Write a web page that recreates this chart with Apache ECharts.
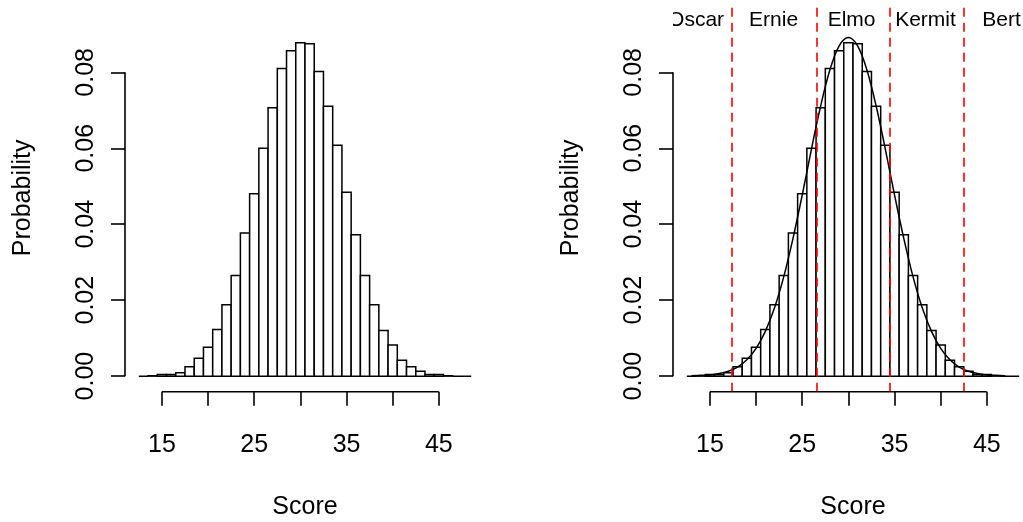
<!DOCTYPE html>
<html>
<head>
<meta charset="utf-8">
<script src="https://cdn.jsdelivr.net/npm/echarts@6/dist/echarts.min.js"></script>
<style>
  html, body { margin: 0; padding: 0; background: #fff; }
  #chart { width: 1023px; height: 522px; }
</style>
</head>
<body>
<div id="chart"></div>
<script>
// histogram bins (score, probability)
const scores = [13, 14, 15, 16, 17, 18, 19, 20, 21, 22, 23, 24, 25, 26, 27, 28, 29, 30,
  31, 32, 33, 34, 35, 36, 37, 38, 39, 40, 41, 42, 43, 44, 45, 46, 47, 48]
const probs = [0, 0.0001, 0.0004, 0.0004, 0.0009, 0.0025, 0.0047, 0.0076, 0.0123, 0.0188,
  0.0265, 0.0377, 0.0480, 0.0600, 0.0707, 0.0810, 0.0857, 0.0878, 0.0875, 0.0802,
  0.0711, 0.0608, 0.0484, 0.0372, 0.0265, 0.0188, 0.0120, 0.0082, 0.0042, 0.0025,
  0.0013, 0.0004, 0.0004, 0.0001, 0, 0]

// smooth density curve on the right panel
const curveScores = [13, 14, 15, 16, 17, 18, 19, 20, 21, 22, 23, 24, 25, 26, 27, 28, 29, 30,
  31, 32, 33, 34, 35, 36, 37, 38, 39, 40, 41, 42, 43, 44, 45, 46, 47]
const curveDens = [0.0001, 0.0002, 0.0003, 0.0007, 0.0013, 0.0024, 0.0043, 0.0073, 0.0118,
  0.0180, 0.0262, 0.0363, 0.0477, 0.0598, 0.0712, 0.0807, 0.0870, 0.0892, 0.0870,
  0.0807, 0.0712, 0.0598, 0.0477, 0.0363, 0.0262, 0.0180, 0.0118, 0.0073, 0.0043,
  0.0024, 0.0013, 0.0007, 0.0003, 0.0002, 0.0001]

// cut points and group names
const cutScores = [17.4, 26.55, 34.45, 42.5]
const groupNames = ['Oscar', 'Ernie', 'Elmo', 'Kermit', 'Bert']
const groupScores = [13.5, 21.9, 30.35, 38.35, 46.6]
const groupY = 0.0937

// axis ticks
const xTicks = [15, 20, 25, 30, 35, 40, 45]
const xLabels = [15, 25, 35, 45]
const yTicks = [0, 0.02, 0.04, 0.06, 0.08]

const X_MIN = 11
const X_MAX = 50
const Y_MIN = -0.0041
const Y_MAX = 0.098
const BIN_W = 1
const FONT = "'Liberation Sans', Arial, Helvetica, sans-serif"
const AXIS_FONT = 25

const chart = echarts.init(document.getElementById('chart'), null, { renderer: 'canvas' })

function xAxisOpt(idx) {
  return {
    type: 'value',
    gridIndex: idx,
    min: X_MIN,
    max: X_MAX,
    name: 'Score',
    nameLocation: 'middle',
    nameGap: 103,
    nameTextStyle: { color: '#000', fontSize: AXIS_FONT, fontFamily: FONT },
    axisLine: { show: false, onZero: false },
    axisTick: {
      show: true,
      customValues: xTicks,
      length: 14,
      lineStyle: { color: '#000', width: 1.6 },
    },
    axisLabel: {
      customValues: xLabels,
      margin: 41,
      color: '#000',
      fontSize: AXIS_FONT,
      fontFamily: FONT,
    },
    splitLine: { show: false },
  }
}

function yAxisOpt(idx) {
  return {
    type: 'value',
    gridIndex: idx,
    min: Y_MIN,
    max: Y_MAX,
    name: 'Probability',
    nameLocation: 'middle',
    nameGap: 89,
    nameTextStyle: { color: '#000', fontSize: AXIS_FONT, fontFamily: FONT },
    axisLine: { show: false, onZero: false },
    axisTick: {
      show: true,
      customValues: yTicks,
      length: 14,
      lineStyle: { color: '#000', width: 1.6 },
    },
    axisLabel: {
      customValues: yTicks,
      rotate: 90,
      margin: 26,
      color: '#000',
      fontSize: AXIS_FONT,
      fontFamily: FONT,
      formatter: (v) => v.toFixed(2),
    },
    splitLine: { show: false },
  }
}

function histSeries(idx) {
  return {
    type: 'custom',
    xAxisIndex: idx,
    yAxisIndex: idx,
    z: 2,
    clip: false,
    data: scores.map((s, i) => [s, probs[i]]),
    renderItem: function (params, api) {
      const x = api.value(0)
      const p0 = api.coord([x - BIN_W / 2, api.value(1)])
      const p1 = api.coord([x + BIN_W / 2, 0])
      return {
        type: 'rect',
        shape: { x: p0[0], y: p0[1], width: p1[0] - p0[0], height: p1[1] - p0[1] },
        style: { fill: '#fff', stroke: '#000', lineWidth: 1.5 },
      }
    },
  }
}

function axisLines(idx) {
  return [
    {
      type: 'line',
      xAxisIndex: idx,
      yAxisIndex: idx,
      clip: false,
      silent: true,
      symbol: 'none',
      z: 5,
      lineStyle: { color: '#000', width: 1.6 },
      data: [[xTicks[0], Y_MIN], [xTicks[xTicks.length - 1], Y_MIN]],
    },
    {
      type: 'line',
      xAxisIndex: idx,
      yAxisIndex: idx,
      clip: false,
      silent: true,
      symbol: 'none',
      z: 5,
      lineStyle: { color: '#000', width: 1.6 },
      data: [[X_MIN, yTicks[0]], [X_MIN, yTicks[yTicks.length - 1]]],
    },
  ]
}

chart.setOption({
  animation: false,
  backgroundColor: '#fff',
  grid: [
    { left: 125, top: 4, width: 360, height: 387.7, outerBoundsMode: 'none', containLabel: false },
    { left: 673, top: 4, width: 360, height: 387.7, outerBoundsMode: 'none', containLabel: false },
  ],
  xAxis: [xAxisOpt(0), xAxisOpt(1)],
  yAxis: [yAxisOpt(0), yAxisOpt(1)],
  series: [
    histSeries(0),
    ...axisLines(0),
    histSeries(1),
    ...axisLines(1),
    {
      type: 'line',
      xAxisIndex: 1,
      yAxisIndex: 1,
      smooth: 0.35,
      symbol: 'none',
      silent: true,
      z: 3,
      lineStyle: { color: '#000', width: 1.5 },
      data: curveScores.map((s, i) => [s, curveDens[i]]),
      markLine: {
        silent: true,
        symbol: ['none', 'none'],
        label: { show: false },
        lineStyle: { color: '#ff0000', type: [9, 6], width: 1.6 },
        data: cutScores.map((v) => ({ xAxis: v })),
      },
    },
    {
      type: 'custom',
      xAxisIndex: 1,
      yAxisIndex: 1,
      clip: true,
      z: 6,
      data: groupScores.map((s) => [s, groupY]),
      renderItem: function (params, api) {
        const p = api.coord([api.value(0), api.value(1)])
        return {
          type: 'text',
          x: p[0],
          y: p[1],
          style: {
            text: groupNames[params.dataIndex],
            fill: '#000',
            fontSize: 21,
            fontFamily: FONT,
            align: 'center',
            verticalAlign: 'middle',
            textAlign: 'center',
            textVerticalAlign: 'middle',
          },
        }
      },
    },
  ],
})
</script>
</body>
</html>
